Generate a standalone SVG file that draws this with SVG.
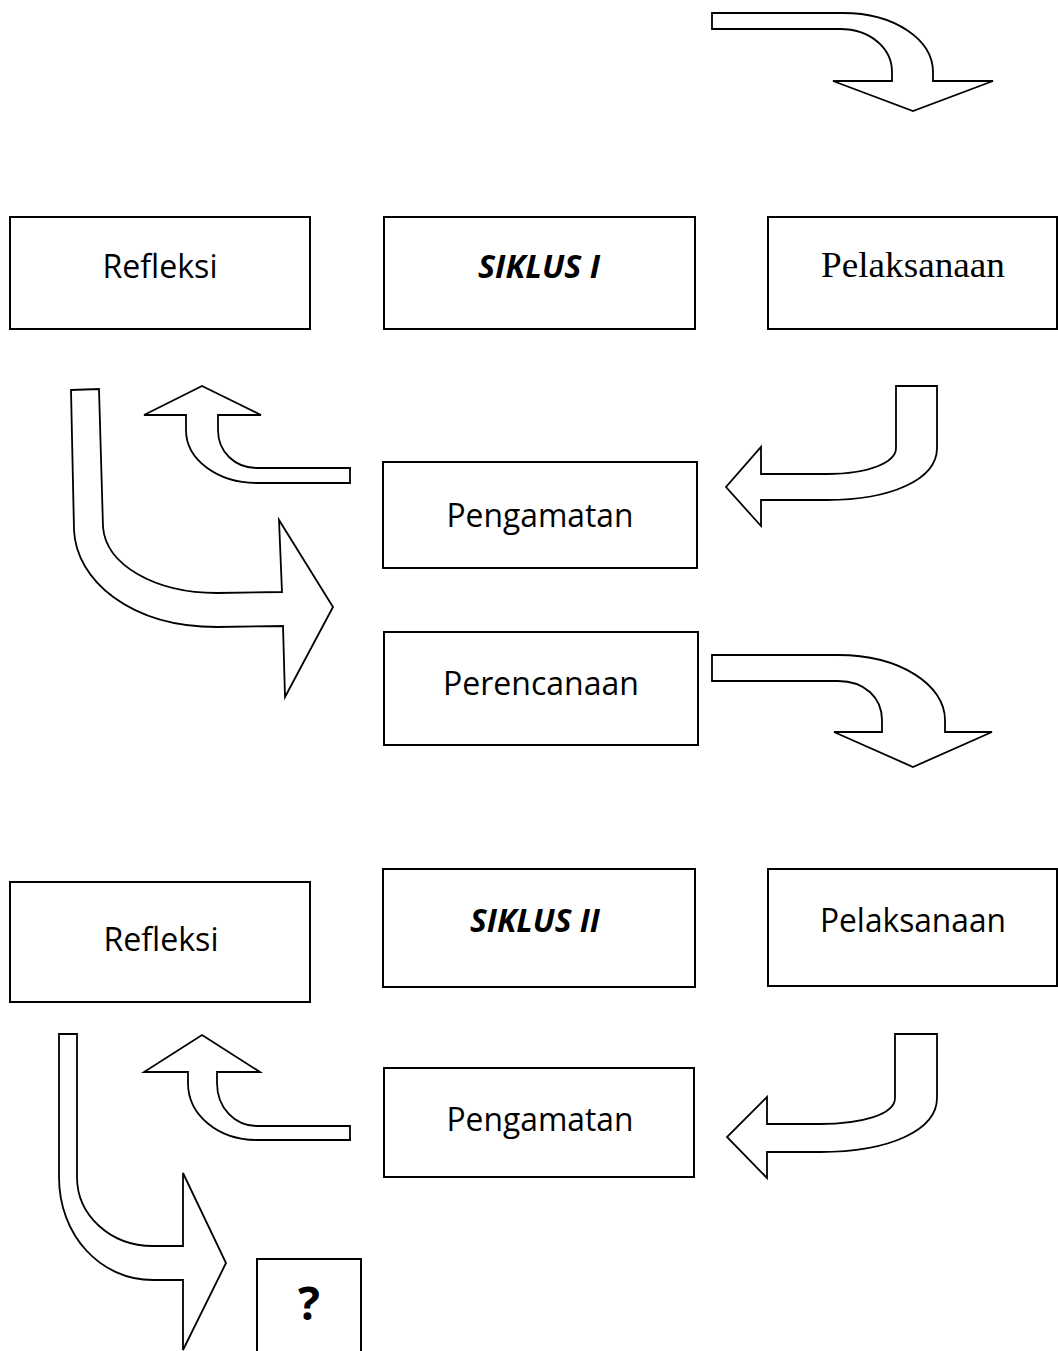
<svg xmlns="http://www.w3.org/2000/svg" width="1058" height="1351" viewBox="0 0 1058 1351">
<style>
.box{fill:#fff;stroke:#000;stroke-width:2}
.arr{fill:#fff;stroke:#000;stroke-width:1.8;stroke-linejoin:miter}
.t{font-family:"Open Sans","Liberation Sans",sans-serif;font-size:33px;fill:#000;text-anchor:middle}
.b{font-weight:bold;font-style:italic}
.tr{font-family:"Liberation Serif",serif;font-size:36px;fill:#000;text-anchor:middle}
</style>
<rect width="1058" height="1351" fill="#fff"/>
<g id="connectors">
<path class="arr" d="M712,13 L843,13 C895,13 933,40 933,72 L933,81 L993,81 L913,111 L833,81 L892,81 L892,72 C892,48 870,29 840,29 L712,29 Z"/>
<path class="arr" d="M202,386 L261,415 L218,415 L218,430 C218,452 235,468 257,468 L350,468 L350,483 L257,483 C218,483 186,460 186,430 L186,415 L144,415 Z"/>
<path class="arr" d="M71,390 L99,389 L103,527 C106,565 155,593 217,593 L282,592 L279,520 L333,607 L285,697 L283,626 L217,627 C130,627 76,580 74,530 Z"/>
<path class="arr" d="M896,386 L937,386 L937,448 C937,480 890,500 827,500 L761,500 L761,526 L726,487 L761,447 L761,474 L827,474 C870,474 896,462 896,448 Z"/>
<path class="arr" d="M712,655 L838,655 C900,655 945,685 945,720 L945,732 L992,732 L913,767 L834,732 L882,732 L882,720 C882,698 865,681 838,681 L712,681 Z"/>
<path class="arr" d="M202,1035 L260,1072 L217,1072 L217,1083 C217,1108 235,1126 257,1126 L350,1126 L350,1140 L257,1140 C218,1140 188,1115 188,1083 L188,1072 L144,1072 Z"/>
<path class="arr" d="M59,1034 L77,1034 L77,1177 C77,1215 110,1246 153,1246 L183,1246 L183,1173 L226,1263 L183,1350 L183,1280 L153,1280 C100,1280 59,1235 59,1177 Z"/>
<path class="arr" d="M895,1034 L937,1034 L937,1098 C937,1130 890,1152 820,1152 L767,1152 L767,1178 L727,1137 L767,1097 L767,1124 L820,1124 C860,1124 895,1115 895,1098 Z"/>
</g>
<g id="refleksi1"><rect class="box" x="10" y="217" width="300" height="112"/><text class="t" x="160" y="278" textLength="115" lengthAdjust="spacingAndGlyphs">Refleksi</text></g>
<g id="siklus1"><rect class="box" x="384" y="217" width="311" height="112"/><text class="t b" x="539" y="278" textLength="122" lengthAdjust="spacingAndGlyphs">SIKLUS I</text></g>
<g id="pelaksanaan1"><rect class="box" x="768" y="217" width="289" height="112"/><text class="tr" x="913" y="277" textLength="184" lengthAdjust="spacingAndGlyphs">Pelaksanaan</text></g>
<g id="pengamatan1"><rect class="box" x="383" y="462" width="314" height="106"/><text class="t" x="540" y="527" textLength="187" lengthAdjust="spacingAndGlyphs">Pengamatan</text></g>
<g id="perencanaan"><rect class="box" x="384" y="632" width="314" height="113"/><text class="t" x="541" y="695" textLength="196" lengthAdjust="spacingAndGlyphs">Perencanaan</text></g>
<g id="siklus2"><rect class="box" x="383" y="869" width="312" height="118"/><text class="t b" x="535" y="932" textLength="130" lengthAdjust="spacingAndGlyphs">SIKLUS II</text></g>
<g id="pelaksanaan2"><rect class="box" x="768" y="869" width="289" height="117"/><text class="t" x="913" y="932" textLength="186" lengthAdjust="spacingAndGlyphs">Pelaksanaan</text></g>
<g id="refleksi2"><rect class="box" x="10" y="882" width="300" height="120"/><text class="t" x="161" y="951" textLength="115" lengthAdjust="spacingAndGlyphs">Refleksi</text></g>
<g id="pengamatan2"><rect class="box" x="384" y="1068" width="310" height="109"/><text class="t" x="540" y="1131" textLength="187" lengthAdjust="spacingAndGlyphs">Pengamatan</text></g>
<g id="tanya"><rect class="box" x="257" y="1259" width="104" height="100"/><text class="t" x="309" y="1320" style="font-weight:bold;font-size:46px">?</text></g>
</svg>
